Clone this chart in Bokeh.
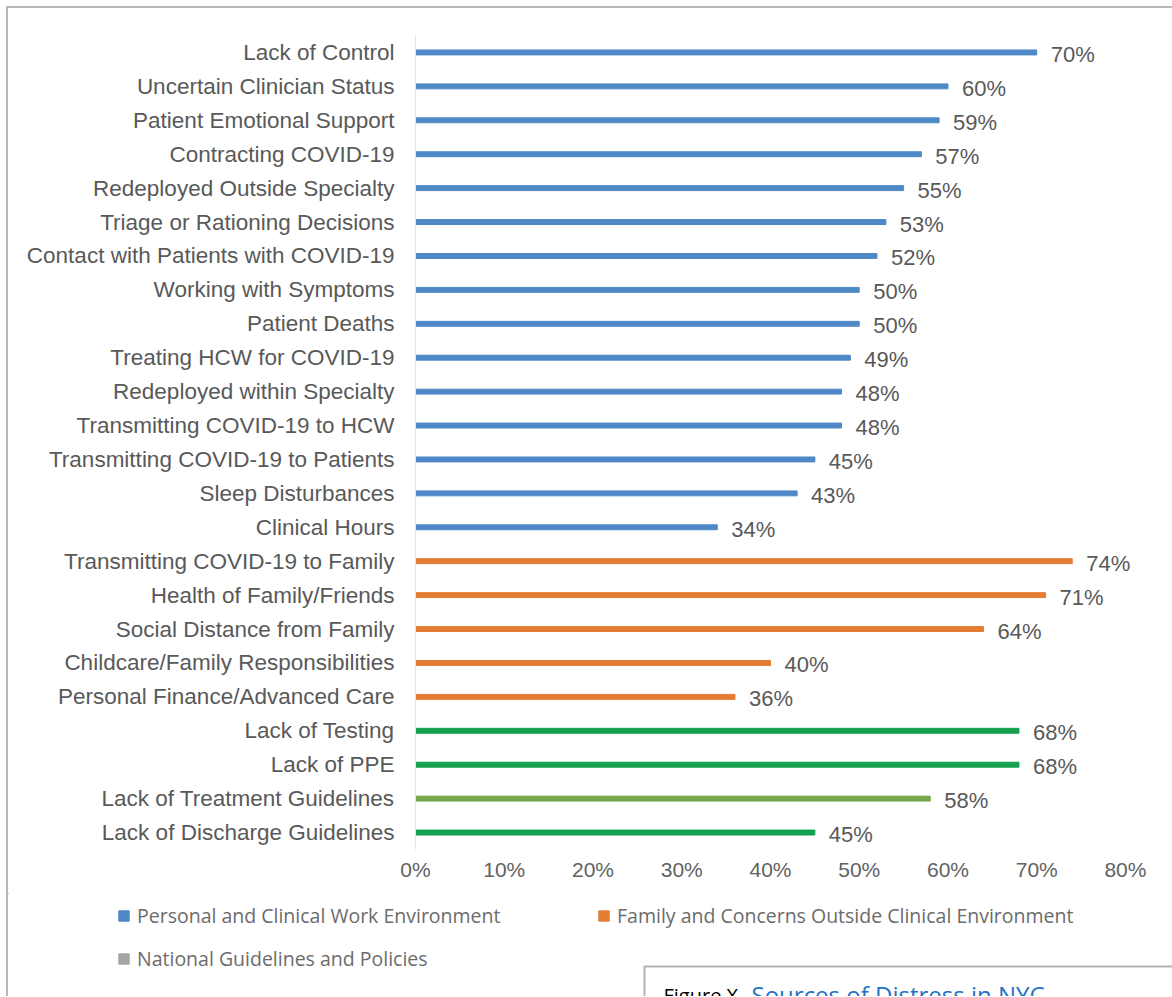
from bokeh.plotting import figure
from bokeh.layouts import column
from bokeh.models import (ColumnDataSource, Legend, LegendItem, LabelSet, Label,
                          BoxAnnotation, FixedTicker, PrintfTickFormatter, Range1d, FactorRange)
from bokeh.core.properties import value
from bokeh.embed import file_html
from bokeh.resources import INLINE

# ---- data (top to bottom as shown) ----
personal_labels = [
    "Lack of Control", "Uncertain Clinician Status", "Patient Emotional Support",
    "Contracting COVID-19", "Redeployed Outside Specialty", "Triage or Rationing Decisions",
    "Contact with Patients with COVID-19", "Working with Symptoms", "Patient Deaths",
    "Treating HCW for COVID-19", "Redeployed within Specialty", "Transmitting COVID-19 to HCW",
    "Transmitting COVID-19 to Patients", "Sleep Disturbances", "Clinical Hours",
]
personal_values = [70, 60, 59, 57, 55, 53, 52, 50, 50, 49, 48, 48, 45, 43, 34]

family_labels = [
    "Transmitting COVID-19 to Family", "Health of Family/Friends", "Social Distance from Family",
    "Childcare/Family Responsibilities", "Personal Finance/Advanced Care",
]
family_values = [74, 71, 64, 40, 36]

national_labels = [
    "Lack of Testing", "Lack of PPE", "Lack of Treatment Guidelines", "Lack of Discharge Guidelines",
]
national_values = [68, 68, 58, 45]

legend_labels = [
    "Personal and Clinical Work Environment",
    "Family and Concerns Outside Clinical Environment",
    "National Guidelines and Policies",
]
x_ticks = [0, 10, 20, 30, 40, 50, 60, 70, 80]
caption_prefix = "Figure X."
caption_title = "Sources of Distress in NYC"

# ---- styles ----
BLUE = "#4f88c6"
ORANGE = "#e57c34"
GREEN = "#14a04e"
OLIVE = "#74a84a"
GRAY_LEG = "#a5a5a5"
TXT = "#595959"
FONT = value("Liberation Sans")

W = 1164
H_MAIN = 885
H_BOT = 103

all_labels = personal_labels + family_labels + national_labels

p = figure(width=W, height=H_MAIN, output_backend="svg", toolbar_location=None,
           x_range=Range1d(0, 85.3), y_range=FactorRange(factors=list(reversed(all_labels))),
           min_border_left=407, min_border_right=0, min_border_top=27, min_border_bottom=44)
p.y_range.range_padding = 0
p.outline_line_color = None
p.xgrid.grid_line_color = None
p.ygrid.grid_line_color = None
p.frame_align = False


def src(labels, vals, colors):
    return ColumnDataSource(dict(cat=labels, val=vals, txt=[f"{v}%" for v in vals], color=colors))


s_personal = src(personal_labels, personal_values, [BLUE] * len(personal_values))
s_family = src(family_labels, family_values, [ORANGE] * len(family_values))
s_national = src(national_labels, national_values,
                 [OLIVE if c == "Lack of Treatment Guidelines" else GREEN for c in national_labels])

BAR_H = 0.145
p.hbar(y="cat", left=0, right="val", height=BAR_H, color="color", source=s_personal)
p.hbar(y="cat", left=0, right="val", height=BAR_H, color="color", source=s_family)
p.hbar(y="cat", left=0, right="val", height=BAR_H, color="color", source=s_national)

for s in (s_personal, s_family, s_national):
    p.add_layout(LabelSet(x="val", y="cat", text="txt", source=s, x_offset=14, y_offset=-2,
                          text_baseline="middle", text_align="left", text_font=FONT,
                          text_font_size="22px", text_color=TXT))

# axes
p.yaxis.axis_line_color = "#e6e6e6"
p.yaxis.major_tick_line_color = None
p.yaxis.minor_tick_line_color = None
p.yaxis.major_tick_out = 0
p.yaxis.major_tick_in = 0
p.yaxis.major_label_standoff = 21
p.yaxis.major_label_text_font = "Liberation Sans"
p.yaxis.major_label_text_font_size = "22.5px"
p.yaxis.major_label_text_color = TXT

p.xaxis.axis_line_color = None
p.xaxis.major_tick_line_color = None
p.xaxis.minor_tick_line_color = None
p.xaxis.major_tick_out = 0
p.xaxis.major_tick_in = 0
p.xaxis.ticker = FixedTicker(ticks=x_ticks)
p.xaxis.formatter = PrintfTickFormatter(format="%d%%")
p.xaxis.major_label_standoff = 8
p.xaxis.major_label_text_font = "Liberation Sans"
p.xaxis.major_label_text_font_size = "21px"
p.xaxis.major_label_text_color = "#626262"

# ---- bottom strip: legend and caption (pixel coordinates, y downwards) ----
p2 = figure(width=W, height=H_BOT, output_backend="svg", toolbar_location=None,
            x_range=Range1d(0, W), y_range=Range1d(H_BOT, 0),
            x_axis_location=None, y_axis_location=None,
            min_border_left=0, min_border_right=0, min_border_top=0, min_border_bottom=0)
p2.outline_line_color = None
p2.grid.visible = False
p2.frame_align = False

# legend swatches (zero-length, placed outside the visible strip)
OFF = [-1000]
r_blue = p2.hbar(y=OFF, left=[0], right=[0], height=1, color=BLUE)
r_orange = p2.hbar(y=OFF, left=[0], right=[0], height=1, color=ORANGE)
r_gray = p2.hbar(y=OFF, left=[0], right=[0], height=1, color=GRAY_LEG)

leg_common = dict(orientation="vertical", glyph_width=13, glyph_height=13, label_height=13,
                  label_standoff=7, padding=0, margin=0, border_line_color=None,
                  background_fill_alpha=0, label_text_font="Open Sans",
                  label_text_font_size="19.5px", label_text_color="#6b6b6b",
                  label_text_baseline="middle")
leg1 = Legend(items=[LegendItem(label=legend_labels[0], renderers=[r_blue]),
                     LegendItem(label=legend_labels[2], renderers=[r_gray])],
              location=(109, 24), spacing=16, **leg_common)
leg2 = Legend(items=[LegendItem(label=legend_labels[1], renderers=[r_orange])],
              location=(589, 67), spacing=0, **leg_common)
p2.add_layout(leg1)
p2.add_layout(leg2)

p2.add_layout(BoxAnnotation(left=636, right=W + 50, top=73, bottom=H_BOT + 50,
                            fill_color="white", fill_alpha=1, line_color="black", line_width=2))
p2.add_layout(Label(x=655, y=102, text=caption_prefix, text_font="Open Sans",
                    text_font_size="20px", text_color="black", text_baseline="alphabetic"))
p2.add_layout(Label(x=743, y=101, text=caption_title, text_font="Open Sans",
                    text_font_size="24px", text_color="#2372c4", text_baseline="alphabetic"))

layout = column(p, p2, spacing=0,
                styles={"margin-left": "6px", "margin-top": "6px",
                        "border-top": "2px solid #b8b8b8", "border-left": "2px solid #b8b8b8"})

open("out.html", "w").write(file_html(layout, INLINE))
